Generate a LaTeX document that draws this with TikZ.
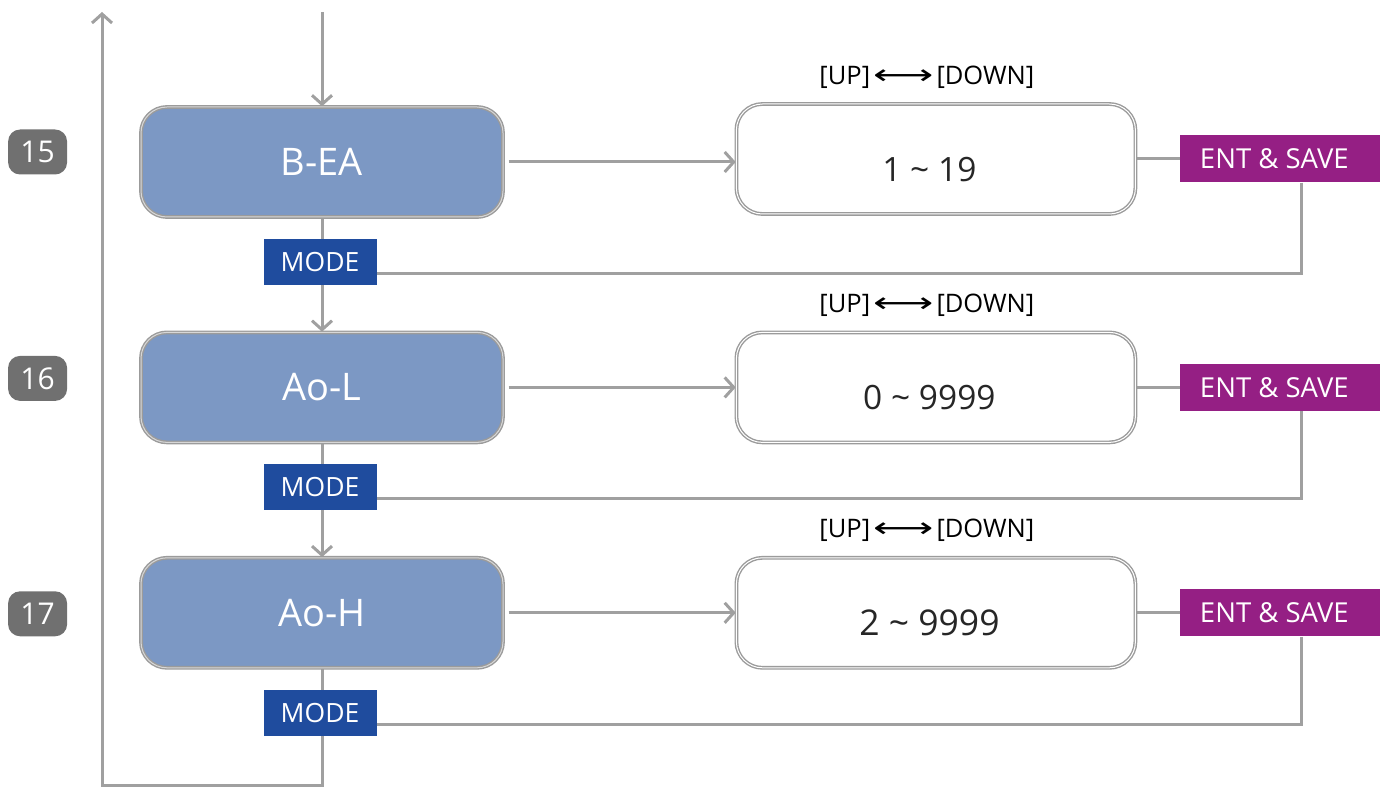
\documentclass[tikz,border=0pt]{standalone}
\usepackage{fontspec}
\setmainfont{Open Sans}
\newfontfamily\arrowfont{DejaVu Sans}
\usepackage{graphicx}
\usepackage{xcolor}
\usepackage{tikz}
\usetikzlibrary{arrows.meta, positioning, backgrounds}
\definecolor{accent}{RGB}{124,152,196}
\definecolor{modeblue}{RGB}{31,76,158}
\definecolor{entpurple}{RGB}{149,31,132}
\definecolor{badge}{RGB}{112,112,112}
\definecolor{wire}{RGB}{160,160,160}
\definecolor{rim}{RGB}{155,155,155}
\newcommand{\updownkeys}{[UP]\hspace{3pt}\scalebox{1.65}[1.1]{\arrowfont ⟷}\hspace{3pt}[DOWN]}

\begin{document}
\begin{tikzpicture}[x=1pt, y=1pt,
  param/.style={rectangle, rounded corners=26pt, draw=rim, double=rim!40,
              double distance=1pt, line width=1.4pt, fill=accent,
              minimum width=362pt, minimum height=110pt, text=white,
              font=\fontsize{38}{44}\selectfont},
  valbox/.style={rectangle, rounded corners=26pt, draw=rim, double=white,
              double distance=1pt, line width=1.4pt, fill=white,
              minimum width=399pt, minimum height=110pt, text=black!85,
              text height=45pt, text depth=0pt,
              execute at begin node=\hspace*{-13pt},
              font=\fontsize{33.5}{38}\selectfont},
  keymode/.style={rectangle, fill=modeblue, text=white, minimum width=113pt,
              minimum height=46pt, font=\fontsize{26.5}{30}\selectfont},
  keyent/.style={rectangle, fill=entpurple, text=white, minimum width=200pt,
              minimum height=47pt, execute at begin node=\hspace*{-12pt},
              font=\fontsize{27.5}{32}\selectfont},
  num/.style={rectangle, rounded corners=12pt, fill=badge, text=white,
              minimum width=59pt, minimum height=45pt,
              font=\fontsize{30}{34}\selectfont},
  updown/.style={inner sep=0pt, font=\fontsize{25.5}{30}\selectfont},
  arr/.style={draw=wire, line width=3pt, -{Straight Barb[length=9pt, width=20pt]}},
  ln/.style={draw=wire, line width=3pt}]
  \useasboundingbox (0,0) rectangle (1391,-791);
  % parameter boxes
  \node[param] (bea) at (322,-162) {B-EA};
  \node[param, below=114pt of bea] (aol) {Ao-L};
  \node[param, below=114pt of aol] (aoh) {Ao-H};
  \node[num, left=73pt of bea, yshift=10pt] (n15) {15};
  \node[num, left=73pt of aol, yshift=9pt] (n16) {16};
  \node[num, left=73pt of aoh, yshift=-1pt] (n17) {17};
  % value ranges
  \node[valbox, right=232pt of bea, yshift=3pt] (r1) {1 \textasciitilde{} 19};
  \node[valbox, right=232pt of aol] (r2) {0 \textasciitilde{} 9999};
  \node[valbox, right=232pt of aoh, font=\fontsize{35.5}{40}\selectfont] (r3) {2 \textasciitilde{} 9999};
  \node[updown, above=15pt of r1, xshift=-9pt] (ud1) {\updownkeys};
  \node[updown, above=15pt of r2, xshift=-9pt] (ud2) {\updownkeys};
  \node[updown, above=15pt of r3, xshift=-9pt] (ud3) {\updownkeys};
  \node[keyent, right=44pt of r1] (ent1) {ENT \& SAVE};
  \node[keyent, right=44pt of r2] (ent2) {ENT \& SAVE};
  \node[keyent, right=44pt of r3] (ent3) {ENT \& SAVE};
  % mode keys
  \node[keymode, below=21pt of bea, xshift=-2pt] (mode1) {MODE};
  \node[keymode, below=21pt of aol, xshift=-2pt] (mode2) {MODE};
  \node[keymode, below=21pt of aoh, xshift=-2pt] (mode3) {MODE};
  \coordinate (entry) at (322,-12);
  \coordinate (back) at (102,-12);
  \begin{scope}[on background layer]
    \draw[arr] (entry) -- (bea);
    \draw[arr] (bea) -- (aol);
    \draw[arr] (aol) -- (aoh);
    \draw[arr] (aoh.south) -- ++(0,-117) -| (back);
    \draw[arr, shorten <=5pt] (bea.east) -- (bea.east -| r1.west);
    \draw[arr, shorten <=5pt] (aol) -- (r2);
    \draw[arr, shorten <=5pt] (aoh) -- (r3);
    \draw[ln] (r1) -- (ent1);
    \draw[ln] (r2) -- (ent2);
    \draw[ln] (r3) -- (ent3);
    \draw[ln] ([xshift=21pt]ent1.south) |- ([yshift=-11.5pt]mode1.east);
    \draw[ln] ([xshift=21pt]ent2.south) |- ([yshift=-11.5pt]mode2.east);
    \draw[ln] ([xshift=21pt]ent3.south) |- ([yshift=-11.5pt]mode3.east);
  \end{scope}
\end{tikzpicture}
\end{document}
